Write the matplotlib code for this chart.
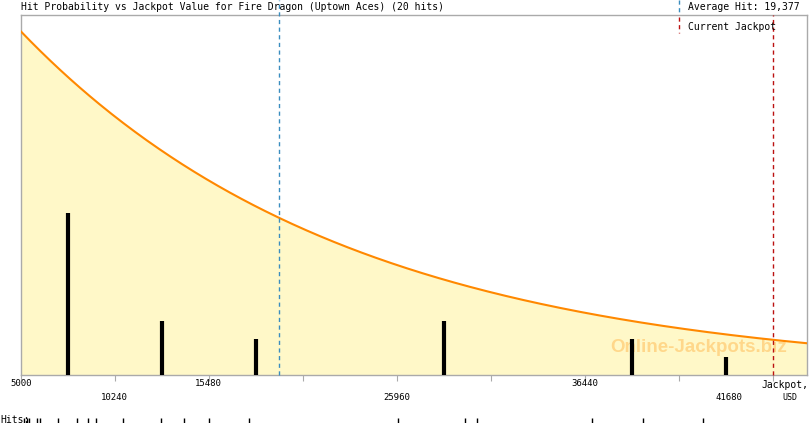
import matplotlib.pyplot as plt
import numpy as np

# --- data ---
hits = [5184, 5351, 5479, 5909, 6093, 7096, 8122, 8768, 9214,
        10703, 12804, 14120,
        15514, 17743,
        26049, 29784, 30420,
        36830, 39707,
        43018]
average_hit = 19377
current_jackpot = 46937
x_min, bin_width = 5000, 5240
x_max = 48832
# fitted probability curve (in "hits" units): start height and decay length
curve_start, curve_decay = 19.1, 18400
tick_label_vals = ['5000', '10240', '15480', '25960', '36440', '41680']
tick_label_pos = [5000, 10240, 15480, 25960, 36440, 44480]
tick_label_row = [0, 1, 0, 1, 0, 1]

MONO = 'DejaVu Sans Mono'
GRAY = '#AAAAAA'
FILL = '#FFF8C8'
ORANGE = '#FF8800'
BLUE = '#3A8DBF'
RED = '#BB1111'

W, H = 810, 425
fig = plt.figure(figsize=(8.1, 4.25), dpi=100, facecolor='white')
ax = fig.add_axes([20.7 / W, 50 / H, (807 - 20.7) / W, 360 / H])
ax.set_xlim(x_min, x_max)
ax.set_ylim(0, 20)

# curve + fill
xs = np.linspace(x_min, x_max, 400)
ys = curve_start * np.exp(-(xs - x_min) / curve_decay)
ax.fill_between(xs, 0, ys, color=FILL, lw=0, zorder=1)
ax.plot(xs, ys, color=ORANGE, lw=1.5, zorder=3)

# histogram bars
edges = x_min + bin_width * np.arange(0, 9)
counts, _ = np.histogram(hits, bins=edges)
centers = (edges[:-1] + edges[1:]) / 2
for c, n in zip(centers, counts):
    if n > 0:
        ax.plot([c, c], [0, n], color='black', lw=3, solid_capstyle='butt', zorder=4)

# average and current jackpot lines
ax.plot([average_hit, average_hit], [0, 20 * 375 / 360], color=BLUE, lw=1,
        ls=(0, (3, 2.5)), clip_on=False, zorder=5)
ax.plot([current_jackpot, current_jackpot], [0, 20], color=RED, lw=1,
        ls=(0, (3, 2.5)), clip_on=False, zorder=5)

# watermark
ax.text(0.8627, 0.075, 'Online-Jackpots.biz', transform=ax.transAxes,
        ha='center', va='center', fontsize=13.5, fontweight='bold',
        family='Liberation Sans', color='#FFB040', alpha=0.45, zorder=2)

# axes frame & ticks
for s in ax.spines.values():
    s.set_color(GRAY)
    s.set_linewidth(1)
ax.set_yticks([])
ax.set_xticks(edges)
ax.tick_params(axis='x', direction='out', length=4, color=GRAY, labelbottom=False)

# tick labels in two rows
for lab, pos, row in zip(tick_label_vals, tick_label_pos, tick_label_row):
    yy = (425 - 384) / H if row == 0 else (425 - 398) / H
    xf = (20.7 + (pos - x_min) / (x_max - x_min) * (807 - 20.7)) / W
    fig.text(xf, yy, lab, ha='center', va='center', fontsize=6.5, family=MONO)
fig.text(808 / W, (425 - 385) / H, 'Jackpot,', ha='right', va='center', fontsize=7, family=MONO)
fig.text(790 / W, (425 - 398) / H, 'USD', ha='center', va='center', fontsize=6, family=MONO)

# title & legend
fig.text(21 / W, (425 - 7) / H, 'Hit Probability vs Jackpot Value for Fire Dragon (Uptown Aces) (20 hits)',
         ha='left', va='center', fontsize=7, family=MONO)
fig.text(688 / W, (425 - 7) / H, 'Average Hit: 19,377', ha='left', va='center', fontsize=7, family=MONO)
fig.text(688 / W, (425 - 27) / H, 'Current Jackpot', ha='left', va='center', fontsize=7, family=MONO)
fig.add_artist(plt.Line2D([679 / W, 679 / W], [(425 - 0) / H, (425 - 12) / H], color=BLUE, lw=1,
                          ls=(0, (3, 2.5))))
fig.add_artist(plt.Line2D([679 / W, 679 / W], [(425 - 17) / H, (425 - 33) / H], color=RED, lw=1,
                          ls=(0, (3, 2.5))))

# individual hits row
fig.text(0, (425 - 420) / H, 'Hits:', ha='left', va='center', fontsize=7, family=MONO)
hit_ax = fig.add_axes([20.7 / W, 2 / H, (807 - 20.7) / W, 5 / H])
hit_ax.set_xlim(x_min, x_max)
hit_ax.set_ylim(0, 1)
hit_ax.vlines(hits, 0, 1, color='black', lw=1)
hit_ax.set_axis_off()

plt.savefig('out.png', dpi=100, facecolor='white')
